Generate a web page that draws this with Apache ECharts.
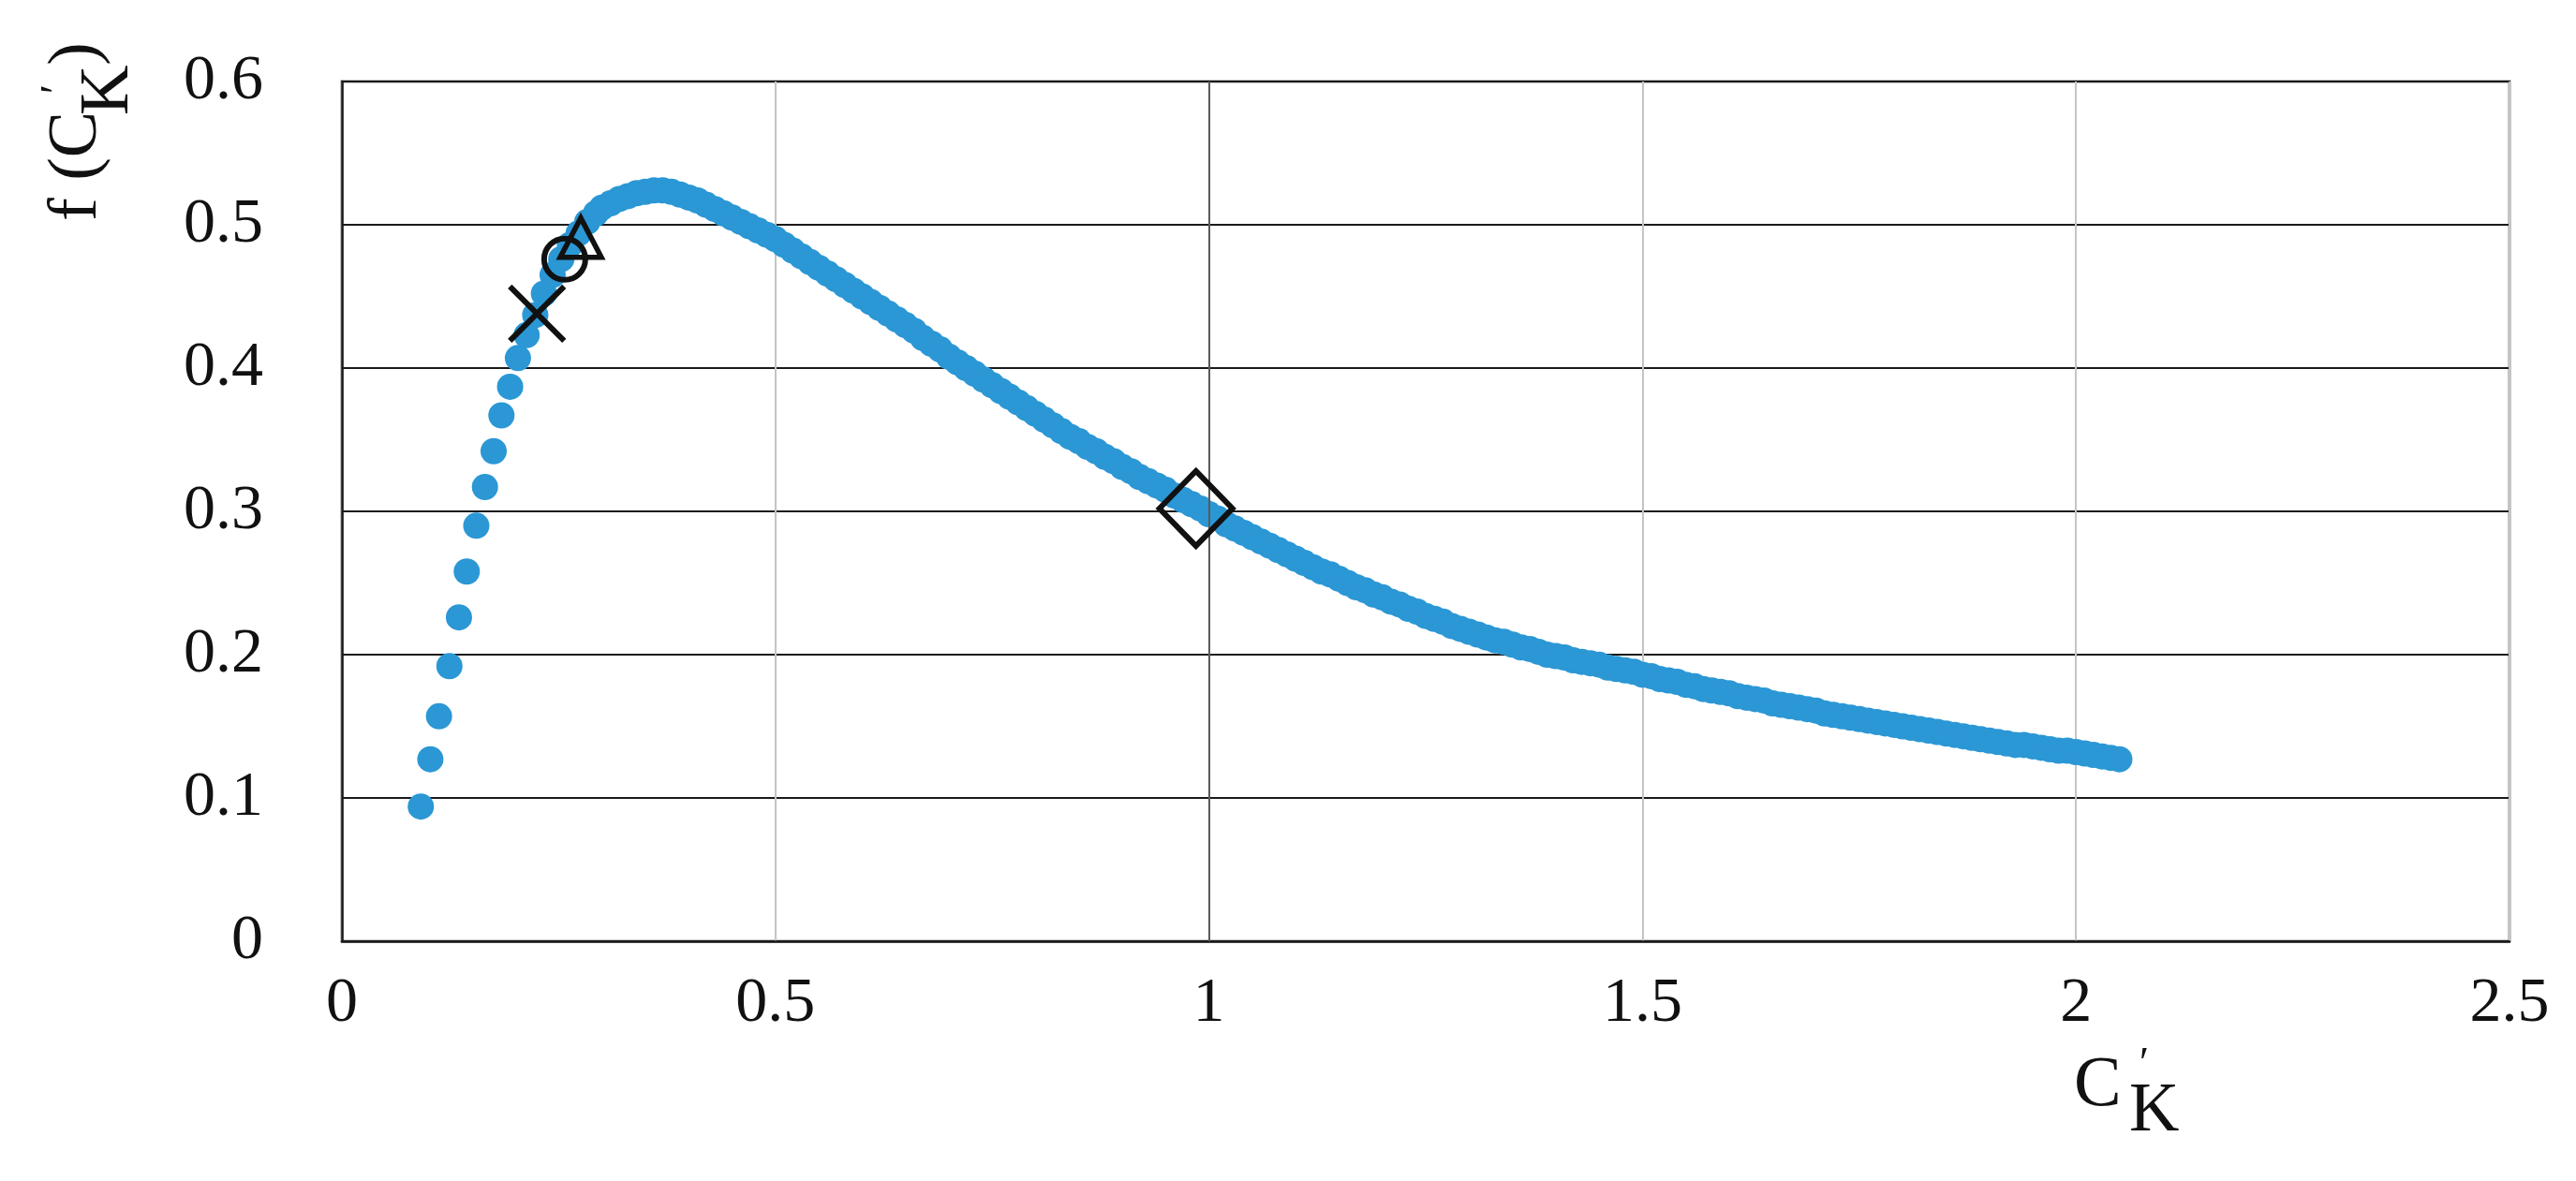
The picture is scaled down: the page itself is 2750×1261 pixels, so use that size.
<!DOCTYPE html>
<html><head><meta charset="utf-8">
<script src="https://cdn.jsdelivr.net/npm/echarts@6/dist/echarts.min.js"></script>
<style>html,body{margin:0;padding:0;background:#fff}#c{width:2750px;height:1261px}</style>
</head><body><div id="c"></div>
<script>
// C'_K values (x) and f(C'_K) values (y)
const ckValues = [
  0.091,0.102,0.112,0.124,0.135,0.144,0.155,0.165,0.175,0.184,0.194,0.203,0.213,0.223,0.233,0.243,0.253,0.263,0.273,0.283,0.293,
  0.30,0.31,0.32,0.33,0.34,0.35,0.36,0.37,0.38,0.39,
  0.40,0.41,0.42,0.43,0.44,0.45,0.46,0.47,0.48,0.49,
  0.50,0.51,0.52,0.53,0.54,0.55,0.56,0.57,0.58,0.59,
  0.60,0.61,0.62,0.63,0.64,0.65,0.66,0.67,0.68,0.69,
  0.70,0.71,0.72,0.73,0.74,0.75,0.76,0.77,0.78,0.79,
  0.80,0.81,0.82,0.83,0.84,0.85,0.86,0.87,0.88,0.89,
  0.90,0.91,0.92,0.93,0.94,0.95,0.96,0.97,0.98,0.99,
  1.00,1.01,1.02,1.03,1.04,1.05,1.06,1.07,1.08,1.09,
  1.10,1.11,1.12,1.13,1.14,1.15,1.16,1.17,1.18,1.19,
  1.20,1.21,1.22,1.23,1.24,1.25,1.26,1.27,1.28,1.29,
  1.30,1.31,1.32,1.33,1.34,1.35,1.36,1.37,1.38,1.39,
  1.40,1.41,1.42,1.43,1.44,1.45,1.46,1.47,1.48,1.49,
  1.50,1.51,1.52,1.53,1.54,1.55,1.56,1.57,1.58,1.59,
  1.60,1.61,1.62,1.63,1.64,1.65,1.66,1.67,1.68,1.69,
  1.70,1.71,1.72,1.73,1.74,1.75,1.76,1.77,1.78,1.79,
  1.80,1.81,1.82,1.83,1.84,1.85,1.86,1.87,1.88,1.89,
  1.90,1.91,1.92,1.93,1.94,1.95,1.96,1.97,1.98,1.99,
  2.00,2.01,2.02,2.03,2.04,2.05
];
const fValues = [
  0.094,0.127,0.157,0.192,0.226,0.258,0.290,0.317,0.342,0.367,0.387,0.407,0.423,0.437,0.452,0.465,0.476,0.486,0.494,0.502,0.508,
  0.512,0.515,0.518,0.520,0.522,0.523,0.524,0.524,0.523,0.521,
  0.519,0.517,0.514,0.511,0.508,0.505,0.502,0.499,0.496,0.493,
  0.490,0.486,0.482,0.478,0.474,0.470,0.466,0.462,0.458,0.454,
  0.450,0.446,0.442,0.438,0.434,0.430,0.426,0.421,0.417,0.413,
  0.408,0.404,0.400,0.396,0.392,0.388,0.384,0.380,0.376,0.372,
  0.368,0.364,0.360,0.356,0.352,0.349,0.345,0.342,0.338,0.335,
  0.331,0.328,0.324,0.321,0.318,0.315,0.311,0.308,0.305,0.302,
  0.298,0.295,0.291,0.288,0.285,0.282,0.279,0.276,0.273,0.270,
  0.267,0.264,0.261,0.258,0.256,0.253,0.250,0.247,0.245,0.242,
  0.240,0.237,0.235,0.232,0.230,0.227,0.225,0.223,0.220,0.218,
  0.216,0.214,0.212,0.210,0.209,0.207,0.205,0.204,0.202,0.200,
  0.199,0.198,0.196,0.195,0.194,0.193,0.191,0.190,0.189,0.188,
  0.186,0.185,0.183,0.182,0.181,0.179,0.178,0.176,0.175,0.174,
  0.173,0.171,0.170,0.169,0.168,0.166,0.165,0.164,0.163,0.162,
  0.161,0.159,0.158,0.157,0.156,0.155,0.154,0.153,0.152,0.151,
  0.150,0.149,0.148,0.147,0.146,0.145,0.144,0.143,0.142,0.141,
  0.140,0.139,0.138,0.137,0.137,0.136,0.135,0.134,0.133,0.133,
  0.132,0.131,0.130,0.129,0.128,0.127
];
// highlighted points
const crossPoint = [0.225, 0.438];
const circlePoint = [0.257, 0.476];
const trianglePoint = [0.2755, 0.491];
const diamondPoint = [0.985, 0.302];
// axis settings
const xMin = 0, xMax = 2.5, xStep = 0.5;
const yMin = 0, yMax = 0.6, yStep = 0.1;
const highlightX = 1;

const curve = ckValues.map((x, i) => [x, fValues[i]]);
const FONT = '"Liberation Serif", "Times New Roman", serif';
const INK = '#111';

const chart = echarts.init(document.getElementById('c'));
const hollow = (w) => ({ color: 'rgba(0,0,0,0)', borderColor: INK, borderWidth: w, opacity: 1 });

chart.setOption({
  animation: false,
  backgroundColor: '#fff',
  grid: { left: 365, right: 71, top: 87, bottom: 256, show: true, borderColor: '#1a1a1a', borderWidth: 2.5 },
  xAxis: {
    type: 'value', min: xMin, max: xMax, interval: xStep,
    axisLine: { show: true, lineStyle: { color: '#1a1a1a', width: 2.5 } },
    axisTick: { show: false },
    axisLabel: { color: INK, fontFamily: FONT, fontSize: 68, margin: 33 },
    splitLine: { show: true, lineStyle: { color: '#c4c4c4', width: 2 } }
  },
  yAxis: {
    type: 'value', min: yMin, max: yMax, interval: yStep,
    axisLine: { show: true, lineStyle: { color: '#1a1a1a', width: 2.5 } },
    axisTick: { show: false },
    axisLabel: { color: INK, fontFamily: FONT, fontSize: 68, margin: 84 },
    splitLine: { show: true, lineStyle: { color: '#1a1a1a', width: 2 } }
  },
  series: [
    {
      type: 'line', data: [], silent: true, z: 1,
      markLine: {
        silent: true, symbol: 'none', label: { show: false },
        lineStyle: { color: '#5a5a5a', width: 2, type: 'solid' },
        data: [{ xAxis: highlightX }]
      }
    },
    {
      type: 'scatter', data: curve, symbol: 'circle', symbolSize: 28, z: 3,
      itemStyle: { color: '#2b97d5', opacity: 1 }
    },
    { type: 'scatter', data: [crossPoint], z: 5, symbol: 'path://M0,0L10,10M10,0L0,10', symbolSize: 58, itemStyle: hollow(6) },
    { type: 'scatter', data: [circlePoint], z: 5, symbol: 'circle', symbolSize: 44, itemStyle: hollow(6) },
    { type: 'scatter', data: [trianglePoint], z: 5, symbol: 'triangle', symbolSize: [44, 42], itemStyle: hollow(5.5) },
    { type: 'scatter', data: [diamondPoint], z: 5, symbol: 'diamond', symbolSize: [78, 80], itemStyle: hollow(6) }
  ],
  graphic: [
    // x-axis title C'_K
    { type: 'text', x: 2214, y: 1160, style: { text: 'C', font: '76px ' + FONT, fill: INK, align: 'left', verticalAlign: 'middle' } },
    { type: 'text', x: 2273, y: 1188, style: { text: 'K', font: '74px ' + FONT, fill: INK, align: 'left', verticalAlign: 'middle' } },
    { type: 'text', x: 2284, y: 1138, style: { text: '\u2032', font: '46px ' + FONT, fill: INK, align: 'left', verticalAlign: 'middle' } },
    // y-axis title f (C'_K), rotated
    { type: 'text', x: 83, y: 236, rotation: Math.PI / 2, style: { text: 'f (C', font: '74px ' + FONT, fill: INK, align: 'left', verticalAlign: 'middle' } },
    { type: 'text', x: 117, y: 123, rotation: Math.PI / 2, style: { text: 'K', font: '74px ' + FONT, fill: INK, align: 'left', verticalAlign: 'middle' } },
    { type: 'text', x: 63, y: 100, rotation: Math.PI / 2, style: { text: '\u2032', font: '46px ' + FONT, fill: INK, align: 'left', verticalAlign: 'middle' } },
    { type: 'text', x: 83, y: 70, rotation: Math.PI / 2, style: { text: ')', font: '74px ' + FONT, fill: INK, align: 'left', verticalAlign: 'middle' } }
  ]
});
</script>
</body></html>
